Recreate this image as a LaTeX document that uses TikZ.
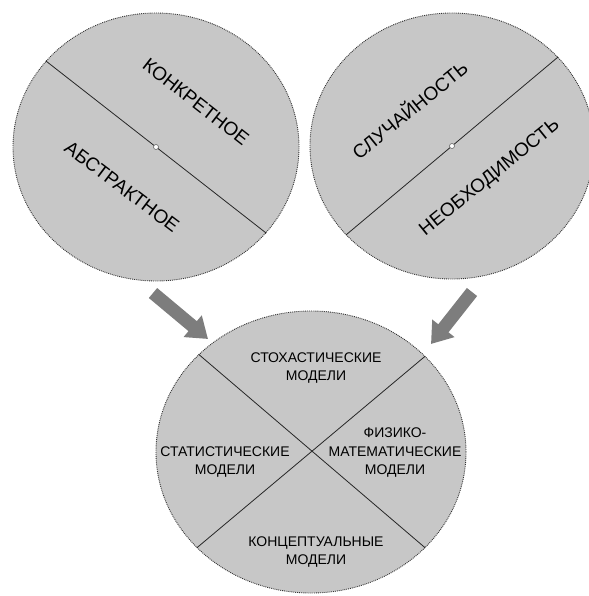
\documentclass[tikz,border=0pt]{standalone}
\usepackage{fontspec}
\setmainfont{Liberation Sans}
\usepackage{xcolor}
\usetikzlibrary{arrows.meta,positioning,shapes.geometric}
\definecolor{discgray}{RGB}{199,199,199}
\definecolor{arrowgray}{RGB}{125,125,125}

\begin{document}
\begin{tikzpicture}[
    x=1pt, y=-1pt,
    disc/.style={ellipse, draw=black!80, densely dotted, line width=0.9pt, fill=discgray, inner sep=0pt},
    split/.style={draw=black!85, line width=0.8pt},
    tag/.style={font=\fontsize{19}{22}\selectfont, inner sep=0pt},
    mlabel/.style={font=\fontsize{14}{18.5}\selectfont, align=center, inner sep=0pt},
    fat/.style={draw=arrowgray, line width=13pt, -{Triangle[width=27pt,length=20pt]}}
]
\useasboundingbox (0,0) rectangle (588,596);

% upper pair: concrete / abstract
\node[disc, minimum width=286pt, minimum height=268pt] (pairA) at (156,147) {};
\draw[split] (pairA.142) -- (pairA.-38);
\filldraw[draw=black!60, fill=white, line width=0.6pt] (pairA.center) circle (2.5pt);
\node[tag, rotate=-38] (concr) at (196,102) {КОНКРЕТНОЕ};
\node[tag, rotate=-37] (abstr) at (122,187) {АБСТРАКТНОЕ};

% upper pair: chance / necessity
\node[disc, minimum width=284pt, minimum height=266pt] (pairB) at (452,146) {};
\draw[split] (pairB.220.8) -- (pairB.40.8);
\filldraw[draw=black!60, fill=white, line width=0.6pt] (pairB.center) circle (2.5pt);
\node[tag, rotate=39] (chance) at (409,109) {СЛУЧАЙНОСТЬ};
\node[tag, rotate=39] (need) at (490,178) {НЕОБХОДИМОСТЬ};

% lower disc: four kinds of models
\node[disc, minimum width=310pt, minimum height=282pt] (models) at (311,452) {};
\draw[split] (models.139.4) -- (models.-40.6);
\draw[split] (models.40.6) -- (models.220.6);
\node[mlabel] (stoch) at (316,368) {СТОХАСТИЧЕСКИЕ\\МОДЕЛИ};
\node[mlabel] (stat) at (225,462) {СТАТИСТИЧЕСКИЕ\\МОДЕЛИ};
\node[mlabel] (phys) at (395,453) {ФИЗИКО-\\МАТЕМАТИЧЕСКИЕ\\МОДЕЛИ};
\node[mlabel] (concept) at (316,552) {КОНЦЕПТУАЛЬНЫЕ\\МОДЕЛИ};

\coordinate (fromA) at (153,293);
\coordinate (inA) at (208,339);
\coordinate (fromB) at (472,292);
\coordinate (inB) at (431,344);
\draw[fat] (fromA) -- (inA);
\draw[fat] (fromB) -- (inB);
\end{tikzpicture}
\end{document}
